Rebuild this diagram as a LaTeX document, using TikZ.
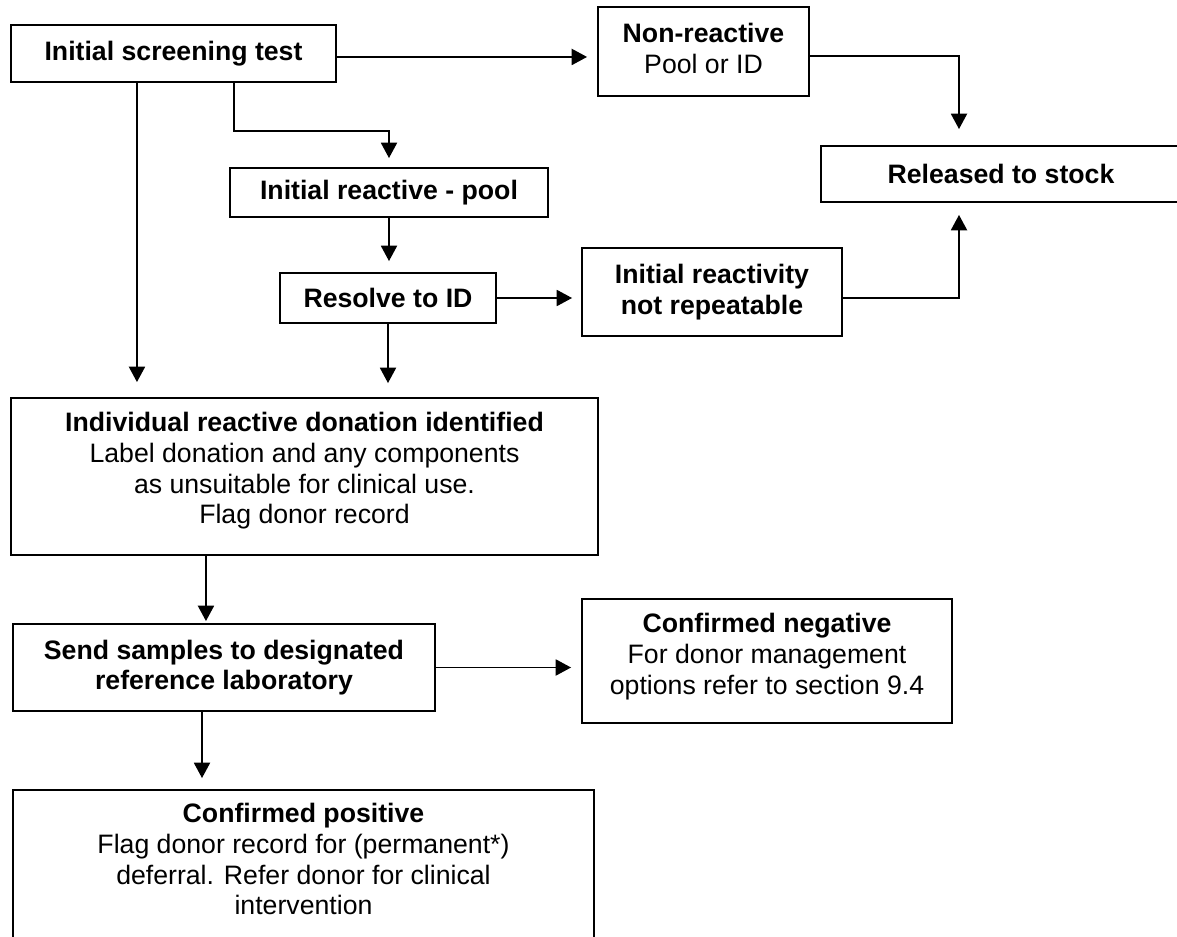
\documentclass[tikz,border=0pt]{standalone}
\usepackage{fontspec}
\setmainfont{Liberation Sans}
\usetikzlibrary{arrows.meta,calc}
\tikzset{
  box/.style={draw, line width=1.4pt, inner sep=0pt, align=center, font=\fontsize{20}{23}\selectfont},
  txt/.style={inner sep=0pt, align=center, font=\fontsize{20}{23}\selectfont},
  arr/.style={line width=1.4pt, -{Triangle[length=11.5pt,width=12pt]}},
}
\begin{document}
\begin{tikzpicture}[x=0.75pt,y=-0.75pt]
\useasboundingbox (0,0) rectangle (1177,937);
\clip (0,0) rectangle (1177,937);
\fill[white] (0,0) rectangle (1177,937);

% boxes
\node[box, minimum width=243.75pt, minimum height=42.75pt] (A) at (173.5,53.5) {\textbf{Initial screening test}};
\node[box, minimum width=158.25pt, minimum height=66.75pt] (NR) at (703.5,51.5) {};
\node[txt] (NRt) at (703.5,48.5) {\textbf{Non-reactive}\\Pool or ID};
\node[box, minimum width=270pt, minimum height=42pt] (rel) at (1001,174) {\textbf{Released to stock}};
\node[box, minimum width=238.5pt, minimum height=36.75pt] (IRP) at (389,192.5) {\textbf{Initial reactive - pool}};
\node[box, minimum width=162pt, minimum height=37.5pt] (res) at (388,298) {\textbf{Resolve to ID}};
\node[box, minimum width=195pt, minimum height=66pt] (IRNR) at (712,292) {\textbf{Initial reactivity}\\\textbf{not repeatable}};
\node[box, minimum width=440.25pt, minimum height=117.75pt] (ind) at (304.5,476.5) {};
\node[txt] (indt) at (304.5,471) {\textbf{Individual reactive donation identified}\\Label donation and any components\\as unsuitable for clinical use.\\Flag donor record};
\node[box, minimum width=316.5pt, minimum height=65.25pt] (send) at (224,667.5) {\textbf{Send samples to designated}\\\textbf{reference laboratory}};
\node[box, minimum width=277.5pt, minimum height=93pt] (CN) at (767,661) {};
\node[txt] (CNt) at (767,656.7) {\textbf{Confirmed negative}\\For donor management\\options refer to section 9.4};
\node[box, minimum width=435.75pt, minimum height=127.5pt] (CP) at (303.5,875) {};
\node[txt] (CPt) at (303.5,859.3) {\textbf{Confirmed positive}\\Flag donor record for (permanent*)\\deferral. Refer donor for clinical\\intervention};

% connectors
\draw[arr, shorten >=7.5pt] ([yshift=-2.6pt]A.east) -- ([yshift=-2.6pt]A.east -| NR.west);
\draw[arr, shorten >=12pt] ([yshift=-3.4pt]NR.east) -| ([xshift=-31.5pt]rel.north);
\draw[arr, shorten >=9pt] ([yshift=-4.5pt]IRNR.east) -| ([xshift=-31.5pt]rel.south);
\draw[arr, shorten >=11.25pt] ([xshift=-27.4pt]A.south) -- ([xshift=-27.4pt]A.south |- ind.north);
\draw[arr, shorten >=6.75pt] ([xshift=45.4pt]A.south) |- ([yshift=27pt]IRP.north) -- (IRP.north);
\draw[arr, shorten >=8.25pt] (IRP.south) -- (IRP.south |- res.north);
\draw[arr, shorten >=6.75pt] (res.east) -- (res.east -| IRNR.west);
\draw[arr, shorten >=10.5pt] (res.south) -- (res.south |- ind.north);
\draw[arr, shorten >=1.5pt] ([xshift=-73.9pt]ind.south) -- ([xshift=-73.9pt]ind.south |- send.north);
\draw[arr, shorten >=7.5pt] (send.east) -- (send.east -| CN.west);
\draw[arr, shorten >=8.25pt] ([xshift=-16.5pt]send.south) -- ([xshift=-16.5pt]send.south |- CP.north);
\end{tikzpicture}
\end{document}
